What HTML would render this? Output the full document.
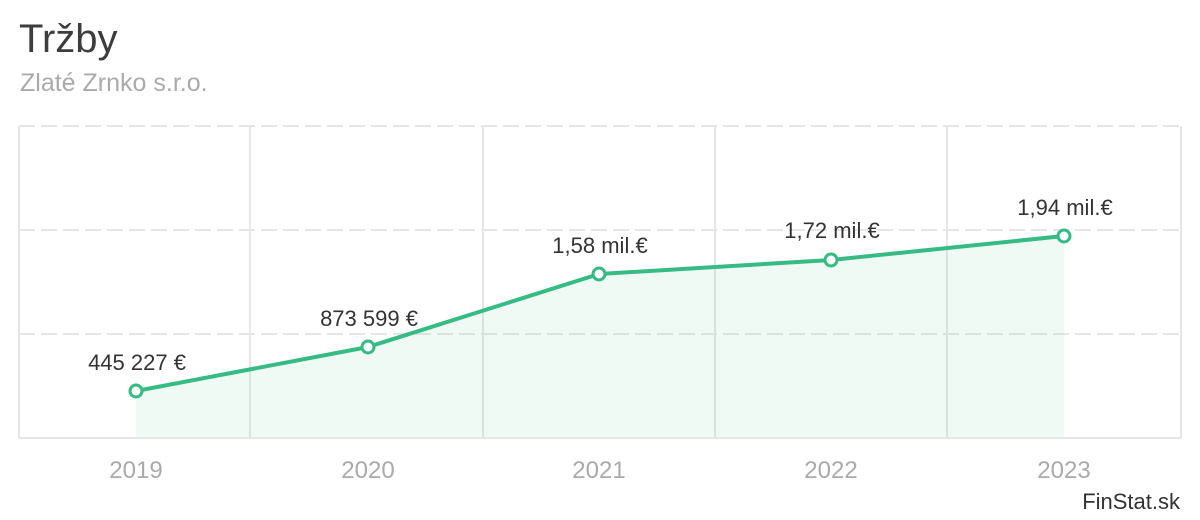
<!DOCTYPE html>
<html><head><meta charset="utf-8"><style>
html,body{margin:0;padding:0;background:#fff;}
svg{display:block;font-family:"Liberation Sans",Arial,sans-serif;}
</style></head><body>
<svg width="1200" height="520" viewBox="0 0 1200 520">
<text x="19" y="52" font-size="40" fill="#3d3d3d">Tržby</text>
<text x="20" y="91" font-size="25" fill="#aaaaaa">Zlaté Zrnko s.r.o.</text>
<g stroke="#e6e6e6" stroke-width="2" fill="none">
<line x1="19" y1="126" x2="19" y2="438"/>
<line x1="1181" y1="126" x2="1181" y2="438"/>
<line x1="250" y1="126" x2="250" y2="438"/>
<line x1="483" y1="126" x2="483" y2="438"/>
<line x1="715" y1="126" x2="715" y2="438"/>
<line x1="947" y1="126" x2="947" y2="438"/>
<line x1="19" y1="438" x2="1181" y2="438"/>
<g stroke-dasharray="16 6">
<line x1="19" y1="126" x2="1181" y2="126"/>
<line x1="19" y1="230" x2="1181" y2="230"/>
<line x1="19" y1="334" x2="1181" y2="334"/>
</g>
</g>
<path d="M136,391 L368,347 L599,274 L831,260 L1064,236 L1064,437 L136,437 Z" fill="#36bb85" fill-opacity="0.08"/>
<polyline points="136,391 368,347 599,274 831,260 1064,236" fill="none" stroke="#36bb85" stroke-width="4" stroke-linejoin="round"/>
<g fill="#fff" stroke="#36bb85" stroke-width="3">
<circle cx="136" cy="391" r="6"/><circle cx="368" cy="347" r="6"/><circle cx="599" cy="274" r="6"/><circle cx="831" cy="260" r="6"/><circle cx="1064" cy="236" r="6"/>
</g>
<g font-size="22" fill="#333" text-anchor="middle">
<text x="137" y="370">445 227 €</text>
<text x="369" y="326">873 599 €</text>
<text x="600" y="253">1,58 mil.€</text>
<text x="832" y="238">1,72 mil.€</text>
<text x="1065" y="215">1,94 mil.€</text>
</g>
<g font-size="24" fill="#aaaaaa" text-anchor="middle">
<text x="136" y="478">2019</text>
<text x="368" y="478">2020</text>
<text x="599" y="478">2021</text>
<text x="831" y="478">2022</text>
<text x="1064" y="478">2023</text>
</g>
<text x="1180" y="509" font-size="22" fill="#333" text-anchor="end">FinStat.sk</text>
</svg>
</body></html>
